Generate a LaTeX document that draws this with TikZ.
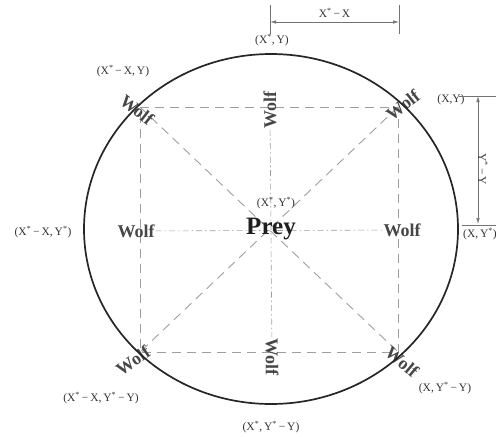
\documentclass[tikz,border=0pt]{standalone}
\usepackage{fontspec}
\setmainfont{Liberation Serif}
\usetikzlibrary{arrows.meta}
\begin{document}
\begin{tikzpicture}[x=1pt, y=-1pt,
  lab/.style={font=\fontsize{11.5}{13}\selectfont, text=black!80, inner sep=0pt},
  wolf/.style={font=\fontsize{18}{20}\selectfont\bfseries, text=black!72, inner sep=1pt},
  grid/.style={draw=black!38, line width=0.9pt, dash pattern=on 9pt off 6pt},
  axis/.style={draw=black!38, line width=0.6pt, dash pattern=on 6pt off 3pt on 1.5pt off 3pt},
  dim/.style={draw=black!55, line width=0.7pt},
  dimarr/.style={dim, {Latex[length=6pt,width=3.5pt]}-{Latex[length=6pt,width=3.5pt]}}
]
\useasboundingbox (0,0) rectangle (496,437);
\clip (0,0) rectangle (496,437);
% hunting square around the prey
\coordinate (tl) at (140,107);
\coordinate (tr) at (398,107);
\coordinate (br) at (398,352);
\coordinate (bl) at (140,352);
\draw[grid] (tl) -- (tr) -- (br) -- (bl) -- cycle;
\draw[grid] (tl) -- (br);
\draw[grid] (tr) -- (bl);
% wolves
\node[wolf, rotate=-38] (wtl) at (137,110) {Wolf};
\node[wolf, rotate=90]  (wt)  at (270,110) {Wolf};
\node[wolf, rotate=38]  (wtr) at (403,105) {Wolf};
\node[wolf]             (wl)  at (136,231) {Wolf};
\node[wolf]             (wr)  at (402,230) {Wolf};
\node[wolf, rotate=35]  (wbl) at (133,361) {Wolf};
\node[wolf, rotate=-90] (wb)  at (272,357) {Wolf};
\node[wolf, rotate=-40] (wbr) at (402,362) {Wolf};
\draw[axis] (wl) -- (wr);
\draw[axis] (wt) -- (wb);
% encircling ring
\draw[black!85, line width=1.7pt] (271,229) ellipse [x radius=187, y radius=175];
\node[font=\fontsize{25}{27}\selectfont\bfseries, text=black!88, inner sep=0pt] (prey) at (271,229) {Prey};
% positions
\node[lab] (pc)  at (276,203) {(X\textsuperscript{*},\,Y\textsuperscript{*})};
\node[lab] (pt)  at (272,40)  {(X\textsuperscript{*},\,Y)};
\node[lab] (ptl) at (123,71)  {(X\textsuperscript{*}\,−\,X,\,Y)};
\node[lab] (ptr) at (451,100) {(X,Y)};
\node[lab] (pl)  at (43,232)  {(X\textsuperscript{*}\,−\,X,\,Y\textsuperscript{*})};
\node[lab, anchor=west] (pr) at (463,234) {(X,\,Y\textsuperscript{*})};
\node[lab] (pbl) at (101,398) {(X\textsuperscript{*}\,−\,X,\,Y\textsuperscript{*}\,−\,Y)};
\node[lab] (pbr) at (445,388) {(X,\,Y\textsuperscript{*}\,−\,Y)};
\node[lab] (pb)  at (271,427) {(X\textsuperscript{*},\,Y\textsuperscript{*}\,−\,Y)};
% distances
\coordinate (ha) at (270,22);
\coordinate (hb) at (399,22);
\draw[dim] (270,5) -- (270,34);
\draw[dim] (399,5) -- (399,34);
\draw[dimarr] (ha) -- node[lab, above=4pt] {X\textsuperscript{*}\,−\,X} (hb);
\coordinate (va) at (478,96);
\coordinate (vb) at (478,224);
\draw[dim] (459,96) -- (496,96);
\draw[dim] (462,225) -- (496,225);
\draw[dimarr] (va) -- node[lab, rotate=-90, right=9pt, anchor=south] {Y\textsuperscript{*}\,−\,Y} (vb);
\end{tikzpicture}
\end{document}
